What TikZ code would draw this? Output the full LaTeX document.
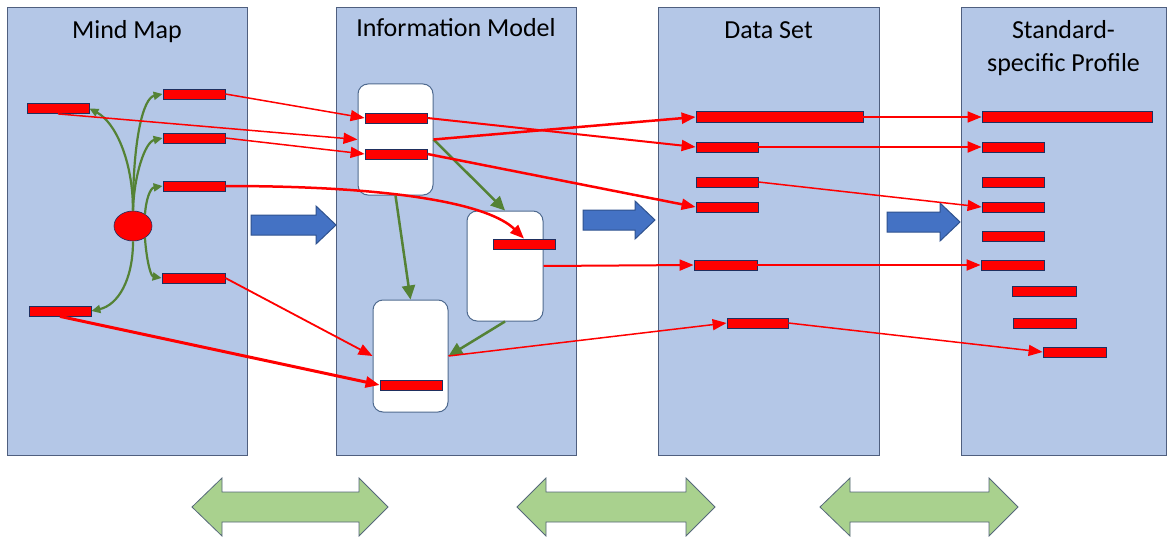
\documentclass[tikz,border=0pt]{standalone}
\usepackage{fontspec}
\setmainfont{Carlito}
\usetikzlibrary{arrows.meta,shapes.geometric}
\definecolor{panelfill}{HTML}{B4C7E7}
\definecolor{paneldraw}{HTML}{4F5F7F}
\definecolor{barred}{HTML}{FF0000}
\definecolor{bardraw}{HTML}{1F2F5F}
\definecolor{mmgreen}{HTML}{548235}
\definecolor{blockblue}{HTML}{4472C4}
\definecolor{blockbluedraw}{HTML}{2F528F}
\definecolor{dblgreen}{HTML}{A9D18E}
\definecolor{dbldraw}{HTML}{56687A}
\definecolor{boxdraw}{HTML}{4F6A8F}
\begin{document}
\begin{tikzpicture}[x=1pt,y=-1pt,
  panel/.style={draw=paneldraw, fill=panelfill, line width=1pt, inner sep=0pt, minimum height=447pt},
  title/.style={anchor=base, inner sep=0pt, font=\fontsize{26}{32}\selectfont, align=center},
  bar/.style={draw=bardraw, fill=barred, line width=0.8pt, inner sep=0pt, minimum height=10pt, minimum width=62pt},
  longbar/.style={bar, minimum height=11pt},
  imbox/.style={draw=boxdraw, fill=white, line width=1pt, rounded corners=10pt, inner sep=0pt},
  redarr/.style={draw=barred, -{Triangle[length=14pt,width=11pt]}},
  mmarr/.style={draw=mmgreen, line width=2.2pt, -{Triangle[length=9pt,width=8pt]}},
  imarr/.style={draw=mmgreen, line width=2.5pt, -{Triangle[length=14pt,width=13pt]}},
  blockarrow/.style={fill=blockblue, draw=blockbluedraw, line width=1pt},
  dblarrow/.style={fill=dblgreen, draw=dbldraw, line width=0.8pt}
]
\useasboundingbox[fill=white] (0,0) rectangle (1173,543);

% panels
\node[panel, minimum width=240pt] (pmm) at (127,231.5) {};
\node[panel, minimum width=240pt] (pim) at (456,231.5) {};
\node[panel, minimum width=221pt] (pds) at (768.5,231.5) {};
\node[panel, minimum width=205pt] (psp) at (1063.5,231.5) {};

% titles
\node[title] (tmm) at (127,39) {Mind Map};
\node[title] (tim) at (456,37) {Information Model};
\node[title] (tds) at (768.5,39) {Data Set};
\node[title] (tsp1) at (1063.5,39) {Standard-};
\node[title] (tsp2) at (1063.5,71) {specific Profile};

% block arrows
\draw[blockarrow] (251,215) -- (316,215) -- (316,206) -- (336,225) -- (316,244) -- (316,235) -- (251,235) -- cycle;
\draw[blockarrow] (583,210) -- (635,210) -- (635,201) -- (655,220) -- (635,239) -- (635,230) -- (583,230) -- cycle;
\draw[blockarrow] (887,212) -- (940,212) -- (940,203) -- (960,222) -- (940,241) -- (940,232) -- (887,232) -- cycle;

% double arrows
\draw[dblarrow] (192,507) -- (222,478) -- (222,492) -- (359,492) -- (359,478) -- (388,507) -- (359,536) -- (359,522) -- (222,522) -- (222,536) -- cycle;
\draw[dblarrow] (517,507) -- (546,478) -- (546,492) -- (686,492) -- (686,478) -- (715,507) -- (686,536) -- (686,522) -- (546,522) -- (546,536) -- cycle;
\draw[dblarrow] (820,507) -- (850,478) -- (850,492) -- (989,492) -- (989,478) -- (1018,507) -- (989,536) -- (989,522) -- (850,522) -- (850,536) -- cycle;

% information model boxes
\node[imbox, minimum width=75pt, minimum height=111pt] (box1) at (395.5,139.5) {};
\node[imbox, minimum width=76pt, minimum height=110pt] (box2) at (505,266) {};
\node[imbox, minimum width=75pt, minimum height=112pt] (box3) at (410.5,356) {};

% mind map
\node[ellipse, draw=bardraw, fill=barred, line width=0.6pt, minimum width=38pt, minimum height=30pt, inner sep=0pt] (el) at (133,226) {};
\node[bar] (A) at (58,108.5) {};
\node[bar] (B1) at (194,94) {};
\node[bar] (B2) at (194,138) {};
\node[bar] (B3) at (194,186) {};
\node[bar, minimum width=63pt] (B4) at (193.5,278) {};
\node[bar] (C) at (60,311) {};

% information model bars
\node[bar] (IM1) at (396,118) {};
\node[bar] (IM2) at (396,154) {};
\node[bar] (IM3) at (524,244) {};
\node[bar] (IM4) at (411,385) {};

% data set bars
\node[longbar, minimum width=167pt] (DS1) at (779.5,117) {};
\node[bar] (DS2) at (727,147) {};
\node[bar] (DS3) at (727,182) {};
\node[bar] (DS4) at (727,207) {};
\node[bar, minimum width=63pt] (DS5) at (725.5,265) {};
\node[bar, minimum width=61pt] (DS6) at (757.5,323) {};

% profile bars
\node[longbar, minimum width=170pt] (P1) at (1067,117) {};
\node[bar] (P2) at (1013,147) {};
\node[bar] (P3) at (1013,182) {};
\node[bar] (P4) at (1013,207) {};
\node[bar] (P5) at (1013,236) {};
\node[bar, minimum width=63pt] (P6) at (1012.5,265) {};
\node[bar, minimum width=64pt] (P7) at (1044,291) {};
\node[bar, minimum width=63pt] (P8) at (1044.5,323) {};
\node[bar, minimum width=63pt] (P9) at (1074.5,352) {};

% mind map green arrows
\draw[mmarr] (el.north) .. controls (133,160) and (115,122) .. (A.east);
\draw[mmarr] (el.north) .. controls (133,140) and (143,98) .. (B1.west);
\draw[mmarr] (el.north) .. controls (134,175) and (145,142) .. (B2.west);
\draw[mmarr] (el.45) .. controls (146,200) and (150,188) .. (B3.west);
\draw[mmarr] (el.-45) .. controls (146,255) and (150,276) .. (B4.west);
\draw[mmarr] (el.south) .. controls (133,280) and (118,305) .. (C.east);

% information model green arrows
\draw[imarr] (box1.east) -- (box2.north);
\draw[imarr] (box1.south) -- (box3.north);
\draw[imarr] (box2.south) -- (box3.east);

% red arrows: mind map -> information model
\draw[redarr, line width=1.5pt] (B1.east) -- (IM1.west);
\draw[redarr, line width=1.5pt] (A.south) -- (box1.west);
\draw[redarr, line width=1.5pt] (B2.east) -- (IM2.west);
\draw[redarr, line width=2.5pt] (B3.east) .. controls (400,186) and (490,205) .. (IM3.north);
\draw[redarr, line width=1.8pt] (B4.east) -- (box3.west);
\draw[redarr, line width=3pt] (C.south) -- (IM4.west);

% red arrows: information model -> data set
\draw[redarr, line width=2pt] (IM1.east) -- (DS2.west);
\draw[redarr, line width=2.5pt] (box1.east) -- (DS1.west);
\draw[redarr, line width=2.5pt] (IM2.east) -- (DS4.west);
\draw[redarr, line width=2pt] (box2.east) -- (DS5.west);
\draw[redarr, line width=1.5pt] (box3.east) -- (DS6.west);

% red arrows: data set -> profile
\draw[redarr, line width=1.6pt] (DS1.east) -- (P1.west);
\draw[redarr, line width=2pt] (DS2.east) -- (P2.west);
\draw[redarr, line width=1.5pt] (DS3.east) -- (P4.west);
\draw[redarr, line width=2pt] (DS5.east) -- (P6.west);
\draw[redarr, line width=1.5pt] (DS6.east) -- (P9.west);
\end{tikzpicture}
\end{document}
